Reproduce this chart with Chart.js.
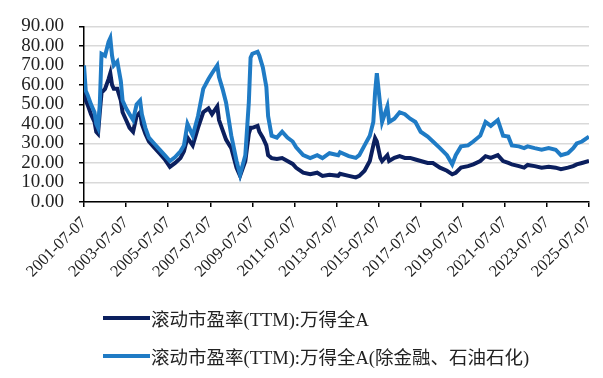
<!DOCTYPE html>
<html><head><meta charset="utf-8">
<script src="https://cdn.jsdelivr.net/npm/chart.js@4.4.1/dist/chart.umd.min.js"></script>
<style>
html,body{margin:0;padding:0;background:#fff;}
#wrap{position:relative;width:603px;height:378px;overflow:hidden;}
canvas{position:absolute;left:0;top:0;}
.leg{position:absolute;left:103px;height:20px;font-family:"Liberation Serif","Noto Sans CJK SC",serif;font-size:18.5px;color:#222;white-space:nowrap;display:flex;align-items:center;}
.leg i{display:inline-block;width:47px;height:4px;margin-right:1px;}
</style></head>
<body>
<div id="wrap">
<canvas id="c" width="603" height="378"></canvas>
<div class="leg" style="top:308px"><i style="background:#0b1f5e"></i><span id="l1"></span></div>
<div class="leg" style="top:346px"><i style="background:#1f7bc5"></i><span id="l2"></span></div>
</div>
<script>
const seriesNames = ['滚动市盈率(TTM):万得全A', '滚动市盈率(TTM):万得全A(除金融、石油石化)'];
const tickLabels = ['2001-07-07','2003-07-07','2005-07-07','2007-07-07','2009-07-07','2011-07-07','2013-07-07','2015-07-07','2017-07-07','2019-07-07','2021-07-07','2023-07-07','2025-07-07'];
const dates = ['2001-07','2001-08','2001-09','2001-11','2002-01','2002-02','2002-03','2002-04','2002-05','2002-07','2002-09','2002-10','2002-11','2002-12','2003-02','2003-04','2003-05','2003-07','2003-09','2003-11','2004-01','2004-03','2004-04','2004-06','2004-08','2004-11','2005-02','2005-05','2005-08','2005-11','2006-02','2006-04','2006-06','2006-09','2006-12','2007-03','2007-06','2007-08','2007-11','2007-12','2008-02','2008-04','2008-07','2008-10','2008-12','2009-03','2009-05','2009-06','2009-07','2009-10','2009-11','2010-01','2010-03','2010-04','2010-06','2010-09','2010-12','2011-03','2011-06','2011-08','2011-12','2012-04','2012-08','2012-11','2013-03','2013-08','2013-09','2014-02','2014-06','2014-08','2014-11','2015-02','2015-04','2015-05','2015-06','2015-08','2015-09','2015-12','2016-01','2016-04','2016-07','2016-10','2017-01','2017-04','2017-07','2017-11','2018-02','2018-06','2018-10','2019-01','2019-03','2019-06','2019-10','2020-01','2020-05','2020-08','2020-11','2021-03','2021-06','2021-09','2021-11','2022-03','2022-06','2022-08','2022-12','2023-04','2023-08','2023-12','2024-03','2024-07','2024-10','2024-12','2025-03','2025-07'];
const peAll = [60,52,50,45,41,36,35,46,56,58,63,66,60,58,58,52,46,42,38,36,44,46,40,35,31,28,25,22,18,20,22.5,26,33,29,38,46,48,45,49,42,37,32,27.5,17.5,13.4,21,35,38,38,39,36,33,29,24,22.5,22,22.5,21,19.5,17.5,15,14.2,15,13.4,14,13.4,14.5,13.4,12.6,13.4,16,21,29,32.7,31,22.6,21,24,21,22.6,23.5,22.6,22.6,21.8,21,20,20,17.6,16,14.2,15,17.6,18.4,19.3,21,23.5,22.6,24,21,20,19.3,18.4,17.6,19,18.4,17.6,18,17.6,16.8,17.6,18.4,19.3,20,21];
const peExFin = [70,57,55,50,46,40,38,50,76,75,82,84,75,70,72,62,52,48,45,42,50,52,45,38,33,30,27,24,21,23,26,29,40,34,44,58,63,66,70,64,58,51,34,21,14,24,51,74,76,77,75,69,59,44,34,33,36,33,31,28,24,22.5,24,22.5,25,24,25.5,23.5,22.6,24,29,34,41,56,66,49,41,49,41,42.7,46,45,42.7,41,36,33.5,31,27.6,24,19.3,24,28.5,29,31,34,41,39,42,34,33.5,29,28.5,27.6,28.5,27.6,26.8,27.6,26.8,24,25,27.6,30,31,33.5];

function toM(d){const [y,m]=d.split('-').map(Number);return (y-2001)*12+(m-7);}
document.getElementById('l1').textContent = seriesNames[0];
document.getElementById('l2').textContent = seriesNames[1];
const fam = '"Liberation Serif", "Times New Roman", serif';
new Chart(document.getElementById('c'), {
  type:'line',
  data:{datasets:[
    {label:seriesNames[0], data:dates.map((d,i)=>({x:toM(d),y:peAll[i]})), borderColor:'#0b1f5e', borderWidth:4, pointRadius:0, tension:0, order:1},
    {label:seriesNames[1], data:dates.map((d,i)=>({x:toM(d),y:peExFin[i]})), borderColor:'#1f7bc5', borderWidth:4, pointRadius:0, tension:0, order:0}
  ]},
  options:{
    responsive:false, animation:false,
    plugins:{legend:{display:false}, tooltip:{enabled:false}},
    layout:{padding:{top:23,right:14,bottom:80,left:0}},
    scales:{
      x:{type:'linear', min:0, max:288,
         ticks:{stepSize:24, autoSkip:false, maxRotation:45, minRotation:45, callback:(v)=>tickLabels[Math.round(v/24)], font:{family:fam,size:16.5}, color:'#222', padding:6},
         grid:{drawOnChartArea:false, drawTicks:true, tickLength:5, tickColor:'#000', lineWidth:1.5},
         border:{color:'#000', width:1.5},
         afterFit:(s)=>{s.height=96; s.paddingRight=0; s.paddingLeft=0;}},
      y:{min:0, max:90,
         ticks:{stepSize:10, autoSkip:false, callback:(v)=>Number(v).toFixed(2), font:{family:fam,size:19}, color:'#222', padding:15},
         grid:{color:'#d9d9d9', lineWidth:1.5, tickColor:'#000', tickLength:5},
         border:{color:'#000', width:1.5},
         afterFit:(s)=>{s.width=84;}}
    }
  }
});
</script>
</body></html>
